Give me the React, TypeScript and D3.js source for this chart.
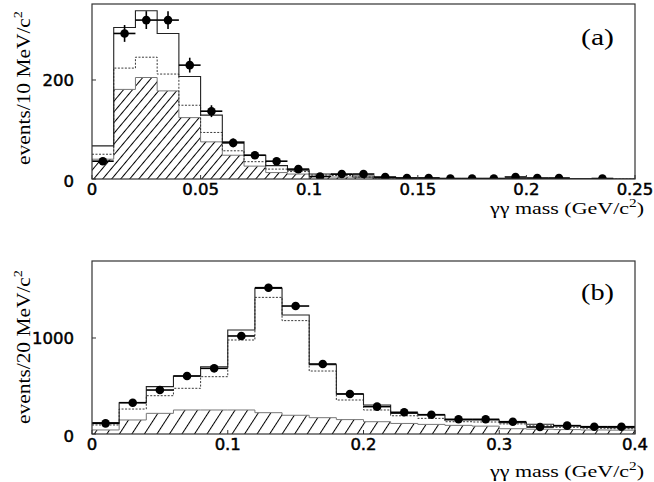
import { useEffect, useRef } from "react";
import * as d3 from "d3";

const W = 654;
const H = 482;

// ---- panel (a): 10 MeV bins from 0 to 0.25 GeV ----
const binA = 0.01;
const totalA = [67, 306, 340, 294, 207, 129, 75, 48, 27, 18, 10, 9, 6, 3, 2, 2, 1, 1, 1, 1, 1, 1, 1, 0, 0];
const dottedA = [50, 224, 246, 212, 149, 94, 57, 35, 20, 15, 8, 7, 4, 2, 1, 1, 1, 1, 1, 1, 0, 0, 0, 0, 0];
const hatchA = [40, 181, 205, 178, 124, 75, 48, 26, 13, 10, 5, 4, 3, 1, 1, 1, 0, 0, 0, 0, 0, 0, 0, 0, 0];
const dataXA = [0.005, 0.015, 0.025, 0.035, 0.045, 0.055, 0.065, 0.075, 0.085, 0.095, 0.105, 0.115, 0.125, 0.135, 0.145, 0.155, 0.165, 0.175, 0.185, 0.195, 0.205, 0.215, 0.235];
const dataYA = [36, 294, 321, 321, 230, 137, 73, 48, 36, 20, 5, 10, 10, 4, 2, 2, 1, 1, 1, 4, 2, 2, 1];
const dataErrA = [6, 17, 18, 18, 15, 12, 9, 7, 6, 4.5, 2.2, 3.2, 3.2, 2, 1.4, 1.4, 1, 1, 1, 2, 1.4, 1.4, 1];
const xTicksA = [0, 0.05, 0.1, 0.15, 0.2, 0.25];
const xTickLabelsA = ["0", "0.05", "0.1", "0.15", "0.2", "0.25"];
const yTicksA = [0, 200];

// ---- panel (b): 20 MeV bins from 0 to 0.4 GeV ----
const binB = 0.02;
const totalB = [118, 326, 493, 604, 701, 1083, 1517, 1240, 722, 417, 302, 215, 198, 146, 146, 118, 101, 83, 69, 66];
const dottedB = [94, 260, 399, 476, 597, 979, 1423, 1181, 656, 354, 250, 190, 163, 128, 125, 105, 85, 70, 60, 55];
const hatchB = [42, 146, 215, 250, 250, 250, 222, 195, 170, 150, 128, 110, 100, 90, 82, 55, 50, 46, 42, 40];
const dataXB = [0.01, 0.03, 0.05, 0.07, 0.09, 0.11, 0.13, 0.15, 0.17, 0.19, 0.21, 0.23, 0.25, 0.27, 0.29, 0.31, 0.33, 0.35, 0.37, 0.39];
const dataYB = [111, 326, 458, 604, 684, 1021, 1524, 1333, 729, 417, 285, 226, 201, 153, 153, 128, 73, 87, 76, 76];
const dataErrB = [11, 18, 21, 25, 26, 32, 39, 37, 27, 20, 17, 15, 14, 12, 12, 11, 9, 9, 9, 9];
const xTicksB = [0, 0.1, 0.2, 0.3, 0.4];
const xTickLabelsB = ["0", "0.1", "0.2", "0.3", "0.4"];
const yTicksB = [0, 1000];

interface PanelSpec {
  id: string;
  top: number;
  bottom: number;
  left: number;
  right: number;
  xMax: number;
  yMax: number;
  bin: number;
  total: number[];
  dotted: number[];
  hatch: number[];
  dataX: number[];
  dataY: number[];
  dataErr: number[];
  xTicks: number[];
  xTickLabels: string[];
  yTicks: number[];
  yLabel: string;
  yLabelCenter: number;
  tag: string;
  tagBaseline: number;
  xLabelBaseline: number;
  hatchSpacing: number;
  hatchAngle: number;
}

const SERIF = "Liberation Serif, Times New Roman, serif";
const SANS = "DejaVu Sans, sans-serif";

function drawPanel(svg: d3.Selection<SVGSVGElement, unknown, null, undefined>, p: PanelSpec) {
  const x = d3.scaleLinear().domain([0, p.xMax]).range([p.left, p.right]);
  const y = d3.scaleLinear().domain([0, p.yMax]).range([p.bottom, p.top]);

  const defs = svg.append("defs");
  const pat = defs.append("pattern")
    .attr("id", `hatch-${p.id}`)
    .attr("patternUnits", "userSpaceOnUse")
    .attr("width", p.hatchSpacing)
    .attr("height", 20)
    .attr("patternTransform", `rotate(${p.hatchAngle})`);
  pat.append("line")
    .attr("x1", 0.5).attr("x2", 0.5)
    .attr("y1", 0).attr("y2", 20)
    .attr("stroke", "#000")
    .attr("stroke-width", 1);

  defs.append("clipPath").attr("id", `clip-${p.id}`)
    .append("rect")
    .attr("x", p.left).attr("y", p.top)
    .attr("width", p.right - p.left).attr("height", p.bottom - p.top);

  const toSteps = (vals: number[]): [number, number][] =>
    vals.map((v, i) => [i * p.bin, v] as [number, number])
      .concat([[vals.length * p.bin, vals[vals.length - 1]]]);

  const step = d3.line<[number, number]>()
    .x((d) => x(d[0]))
    .y((d) => y(d[1]))
    .curve(d3.curveStepAfter);

  const area = d3.area<[number, number]>()
    .x((d) => x(d[0]))
    .y0(y(0))
    .y1((d) => y(d[1]))
    .curve(d3.curveStepAfter);

  const g = svg.append("g").attr("clip-path", `url(#clip-${p.id})`);

  // hatched component
  g.append("path")
    .attr("d", area(toSteps(p.hatch)))
    .attr("fill", `url(#hatch-${p.id})`)
    .attr("stroke", "none");
  g.append("path")
    .attr("d", step(toSteps(p.hatch)))
    .attr("fill", "none")
    .attr("stroke", "#777")
    .attr("stroke-width", 1);

  // dotted component
  g.append("path")
    .attr("d", step(toSteps(p.dotted)))
    .attr("fill", "none")
    .attr("stroke", "#222")
    .attr("stroke-width", 0.9)
    .attr("stroke-dasharray", "2,1.5");

  // total
  g.append("path")
    .attr("d", step(toSteps(p.total)))
    .attr("fill", "none")
    .attr("stroke", "#222")
    .attr("stroke-width", 1.1);

  // data points with error bars
  p.dataX.forEach((dx, i) => {
    const cx = x(dx);
    const cy = y(p.dataY[i]);
    g.append("line")
      .attr("x1", x(dx - p.bin / 2)).attr("x2", x(dx + p.bin / 2))
      .attr("y1", cy).attr("y2", cy)
      .attr("stroke", "#000").attr("stroke-width", 1.6);
    g.append("line")
      .attr("x1", cx).attr("x2", cx)
      .attr("y1", y(p.dataY[i] - p.dataErr[i])).attr("y2", y(p.dataY[i] + p.dataErr[i]))
      .attr("stroke", "#000").attr("stroke-width", 1.6);
    g.append("circle")
      .attr("cx", cx).attr("cy", cy).attr("r", 4.3)
      .attr("fill", "#000");
  });

  // frame
  svg.append("rect")
    .attr("x", p.left).attr("y", p.top)
    .attr("width", p.right - p.left).attr("height", p.bottom - p.top)
    .attr("fill", "none")
    .attr("stroke", "#333")
    .attr("stroke-width", 1.2);

  // ticks
  p.xTicks.forEach((t, i) => {
    svg.append("line")
      .attr("x1", x(t)).attr("x2", x(t))
      .attr("y1", p.bottom).attr("y2", p.bottom - 4)
      .attr("stroke", "#333").attr("stroke-width", 1);
    svg.append("text")
      .attr("x", x(t))
      .attr("y", p.bottom + 15.5)
      .attr("text-anchor", "middle")
      .style("font-family", SANS)
      .attr("font-size", 16.5)
      .attr("fill", "#000")
      .attr("stroke", "#000")
      .attr("stroke-width", 0.5)
      .text(p.xTickLabels[i]);
  });
  p.yTicks.forEach((t) => {
    svg.append("line")
      .attr("x1", p.left).attr("x2", p.left + 4)
      .attr("y1", y(t)).attr("y2", y(t))
      .attr("stroke", "#333").attr("stroke-width", 1);
    svg.append("text")
      .attr("x", p.left - 18)
      .attr("y", y(t) + (t === 0 ? 8 : 6))
      .attr("text-anchor", "end")
      .style("font-family", SANS)
      .attr("font-size", 16.5)
      .attr("fill", "#000")
      .attr("stroke", "#000")
      .attr("stroke-width", 0.5)
      .text(String(t));
  });

  // y axis title
  const yt = svg.append("text")
    .attr("transform", `translate(30,${p.yLabelCenter}) rotate(-90)`)
    .attr("text-anchor", "middle")
    .style("font-family", SERIF)
    .attr("font-size", 19.5)
    .attr("textLength", 154)
    .attr("lengthAdjust", "spacingAndGlyphs")
    .attr("fill", "#000");
  yt.append("tspan").text(p.yLabel);
  yt.append("tspan").attr("dy", -8).attr("font-size", 13).text("2");

  // x axis title
  const xt = svg.append("text")
    .attr("x", 644)
    .attr("y", p.xLabelBaseline)
    .attr("text-anchor", "end")
    .style("font-family", SERIF)
    .attr("font-size", 16.5)
    .attr("textLength", 154)
    .attr("lengthAdjust", "spacingAndGlyphs")
    .attr("fill", "#000");
  xt.append("tspan").text("\u03b3\u03b3 mass (GeV/c");
  xt.append("tspan").attr("dy", -7).attr("font-size", 11.5).text("2");
  xt.append("tspan").attr("dy", 7).text(")");

  // panel tag
  svg.append("text")
    .attr("x", 614)
    .attr("y", p.tagBaseline)
    .attr("text-anchor", "end")
    .style("font-family", SERIF)
    .attr("font-size", 23)
    .attr("textLength", 33)
    .attr("lengthAdjust", "spacingAndGlyphs")
    .attr("fill", "#000")
    .text(p.tag);
}

export default function App() {
  const svgRef = useRef<SVGSVGElement>(null);

  useEffect(() => {
    const svg = d3.select(svgRef.current as SVGSVGElement);
    svg.selectAll("*").remove();
    svg.append("rect").attr("width", W).attr("height", H).attr("fill", "#fff");

    drawPanel(svg, {
      id: "a", top: 4, bottom: 179, left: 92, right: 635,
      xMax: 0.25, yMax: 353.5, bin: binA,
      total: totalA, dotted: dottedA, hatch: hatchA,
      dataX: dataXA, dataY: dataYA, dataErr: dataErrA,
      xTicks: xTicksA, xTickLabels: xTickLabelsA, yTicks: yTicksA,
      yLabel: "events/10 MeV/c", yLabelCenter: 88,
      tag: "(a)", tagBaseline: 45, xLabelBaseline: 214,
      hatchSpacing: 6.9, hatchAngle: 40,
    });

    drawPanel(svg, {
      id: "b", top: 261, bottom: 434, left: 92, right: 635,
      xMax: 0.4, yMax: 1802, bin: binB,
      total: totalB, dotted: dottedB, hatch: hatchB,
      dataX: dataXB, dataY: dataYB, dataErr: dataErrB,
      xTicks: xTicksB, xTickLabels: xTickLabelsB, yTicks: yTicksB,
      yLabel: "events/20 MeV/c", yLabelCenter: 347,
      tag: "(b)", tagBaseline: 300, xLabelBaseline: 477,
      hatchSpacing: 10.5, hatchAngle: 33,
    });
  }, []);

  return (
    <svg
      ref={svgRef}
      width={W}
      height={H}
      viewBox={`0 0 ${W} ${H}`}
      style={{ position: "absolute", left: 0, top: 0 }}
    />
  );
}
